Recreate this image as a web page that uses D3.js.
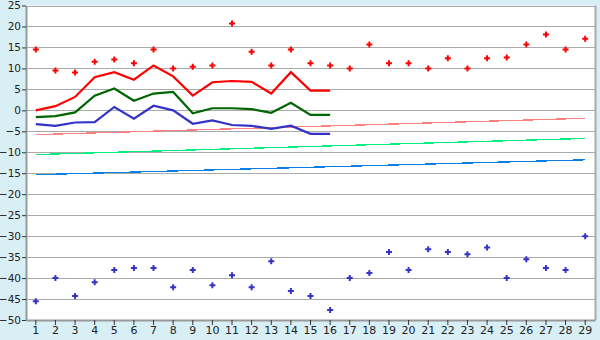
<!DOCTYPE html>
<html>
<head>
<meta charset="utf-8">
<script src="https://cdn.jsdelivr.net/npm/d3@7"></script>
<style>
body { margin: 0; background: #d9eff6; }
svg { display: block; font-family: "DejaVu Sans", Verdana, sans-serif; }
</style>
</head>
<body>
<svg id="svg" width="600" height="340"></svg>
<script>
// jours du mois
var days = d3.range(1, 30);
var yTicks = d3.range(-50, 26, 5);

// maxi / mini absolus (points)
var maxAbs = [14.5, 9.5, 9.0, 11.6, 12.1, 11.2, 14.5, 10.0, 10.4, 10.7, 20.7, 14.0, 10.7, 14.5,
              11.2, 10.7, 10.0, 15.7, 11.2, 11.2, 10.0, 12.4, 10.0, 12.4, 12.6, 15.7, 18.1, 14.5, 17.1];
var minAbs = [-45.5, -40.0, -44.3, -41.0, -38.1, -37.6, -37.6, -42.2, -38.1, -41.7, -39.3, -42.2, -36.0, -43.1,
              -44.3, -47.6, -40.0, -38.8, -33.8, -38.1, -33.1, -33.8, -34.3, -32.7, -40.0, -35.5, -37.6, -38.1, -30.0];

// courbes du mois en cours (jours 1 a 16)
var maxCur = [0.0, 1.0, 3.2, 7.9, 9.1, 7.3, 10.7, 8.1, 3.5, 6.7, 7.0, 6.8, 4.0, 9.1, 4.7, 4.7];
var moyCur = [-1.6, -1.4, -0.5, 3.5, 5.2, 2.3, 4.0, 4.4, -0.7, 0.5, 0.5, 0.3, -0.6, 1.8, -1.1, -1.1];
var minCur = [-3.3, -3.7, -2.9, -2.8, 0.8, -2.0, 1.1, 0.0, -3.2, -2.4, -3.5, -3.7, -4.4, -3.65, -5.6, -5.6];

// normales (debut et fin du mois)
var normMax = [-5.8, -1.9];
var normMoy = [-10.55, -6.7];
var normMin = [-15.35, -11.8];

var svg = d3.select("#svg");
var pLeft = 26, pRight = 595, pTop = 5.5, pBottom = 320;

var scaleX = d3.scaleBand().domain(days).range([pLeft, pRight]);
var xc = function(d) { return scaleX(d) + scaleX.bandwidth() / 2; };
var scaleY = d3.scaleLinear().domain([-50, 25]).range([pBottom, pTop]);

// zone du graphique
svg.append("rect")
  .attr("x", pLeft).attr("y", pTop)
  .attr("width", pRight - pLeft).attr("height", pBottom - pTop)
  .attr("fill", "white");

// grille
svg.append("g").selectAll("line")
  .data(yTicks)
  .enter().append("line")
  .attr("x1", pLeft).attr("x2", pRight)
  .attr("y1", function(d) { return Math.round(scaleY(d)) + 0.5; })
  .attr("y2", function(d) { return Math.round(scaleY(d)) + 0.5; })
  .attr("stroke", "#aaaaaa")
  .attr("stroke-width", 1);

// bord droit
svg.append("line")
  .attr("x1", pRight + 0.5).attr("x2", pRight + 0.5)
  .attr("y1", pTop).attr("y2", pBottom)
  .attr("stroke", "#aaaaaa").attr("stroke-width", 2);

// axe Y
var axisY = d3.axisLeft(scaleY).tickValues(yTicks).tickSize(4).tickPadding(1).tickSizeOuter(0).tickFormat(d3.format("d"));
var gAxisY = svg.append("g").attr("transform", "translate(" + pLeft + ",0)").call(axisY);
gAxisY.select(".domain").attr("stroke", "#999999").attr("stroke-width", 2);
gAxisY.selectAll(".tick line").attr("stroke", "#333");
gAxisY.selectAll("text").attr("font-size", 10.5).attr("fill", "#222").attr("font-family", "DejaVu Sans");

// axe X
var axisX = d3.axisBottom(scaleX).tickSize(5).tickSizeOuter(0);
var gAxisX = svg.append("g").attr("transform", "translate(0," + pBottom + ")").call(axisX);
gAxisX.select(".domain").attr("stroke", "#999999").attr("stroke-width", 2);
gAxisX.selectAll(".tick line").attr("stroke", "#333");
gAxisX.selectAll("text").attr("font-size", 11).attr("fill", "#222").attr("font-family", "DejaVu Sans").attr("dy", "0.55em");

// normales
var normals = [[normMax, "#ff8080"], [normMoy, "#00f080"], [normMin, "#0a7ee8"]];
normals.forEach(function(n) {
  svg.append("line")
    .attr("x1", xc(days[0])).attr("x2", xc(days[days.length - 1]))
    .attr("y1", scaleY(n[0][0])).attr("y2", scaleY(n[0][1]))
    .attr("stroke", n[1]).attr("stroke-width", 1.3)
    .attr("shape-rendering", "crispEdges");
});

// courbes
var line = d3.line()
  .x(function(d, i) { return xc(days[i]); })
  .y(function(d) { return scaleY(d); });
var curves = [[maxCur, "#ff0000"], [moyCur, "#006600"], [minCur, "#3333cc"]];
curves.forEach(function(c) {
  svg.append("path")
    .datum(c[0])
    .attr("d", line)
    .attr("fill", "none")
    .attr("stroke", c[1])
    .attr("stroke-width", 2.2);
});

// points
var cross = d3.symbol().type(d3.symbolCross).size(20);
svg.append("g").selectAll("path")
  .data(maxAbs)
  .enter().append("path")
  .attr("d", cross)
  .attr("transform", function(d, i) { return "translate(" + xc(days[i]) + "," + scaleY(d) + ")"; })
  .attr("fill", "#ff0000");
svg.append("g").selectAll("path")
  .data(minAbs)
  .enter().append("path")
  .attr("d", cross)
  .attr("transform", function(d, i) { return "translate(" + xc(days[i]) + "," + scaleY(d) + ")"; })
  .attr("fill", "#3333cc");
</script>
</body>
</html>
